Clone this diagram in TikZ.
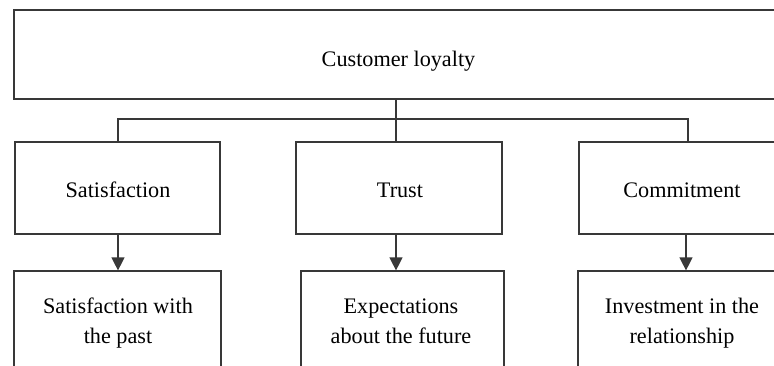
\documentclass[tikz,border=0pt]{standalone}
\usepackage{fontspec}
\setmainfont{Liberation Serif}
\usetikzlibrary{arrows.meta}
\begin{document}
\begin{tikzpicture}[x=1pt,y=-1pt,
  line width=1.2pt,
  ln/.style={draw=black!78},
  box/.style={ln, rectangle, inner sep=0pt},
  lbl/.style={font=\fontsize{22.2}{30}\selectfont, text=black, inner sep=0pt, align=center},
  arr/.style={ln, -{Triangle[width=13pt,length=13pt]}}
]
\useasboundingbox (0,0) rectangle (774,365);
\clip (0,0) rectangle (774,365);
\fill[white] (0,0) rectangle (774,365);
% boxes
\node[box, minimum width=780pt, minimum height=89pt] (top) at (404,54.5) {};
\node[box, minimum width=205pt, minimum height=92pt] (sat) at (117.5,188) {};
\node[box, minimum width=206pt, minimum height=92pt] (tru) at (399,188) {};
\node[box, minimum width=220pt, minimum height=92pt] (com) at (689,188) {};
\node[box, minimum width=207pt, minimum height=120pt] (satb) at (117.5,331) {};
\node[box, minimum width=203pt, minimum height=120pt] (trub) at (402.5,331) {};
\node[box, minimum width=220pt, minimum height=120pt] (comb) at (688,331) {};
% labels
\node[lbl, anchor=base] (tl) at (398.5,66.5) {Customer loyalty};
\node[lbl, anchor=base] (sl) at (118,197) {Satisfaction};
\node[lbl, anchor=base] (trl) at (400,197) {Trust};
\node[lbl, anchor=base] (cl) at (682,197) {Commitment};
\node[lbl, anchor=base] (sbl) at (118,343) {Satisfaction with\\the past};
\node[lbl, anchor=base] (tbl) at (401,343) {Expectations\\about the future};
\node[lbl, anchor=base] (cbl) at (682,343) {Investment in the\\relationship};
% connector junctions
\coordinate (j0) at (396,99);
\coordinate (j1) at (396,119);
\coordinate (jl) at (118,119);
\coordinate (jr) at (688,119);
\coordinate (jt) at (396,142);
\draw[ln] (j0) -- (jt);
\draw[ln] (jl |- sat.north) -- (jl) -- (jr) -- (jr |- com.north);
% arrows
\coordinate (a1) at (118,234);
\coordinate (a2) at (396,234);
\coordinate (a3) at (686,234);
\draw[arr] (a1) -- (a1 |- satb.north);
\draw[arr] (a2) -- (a2 |- trub.north);
\draw[arr] (a3) -- (a3 |- comb.north);
\end{tikzpicture}
\end{document}
